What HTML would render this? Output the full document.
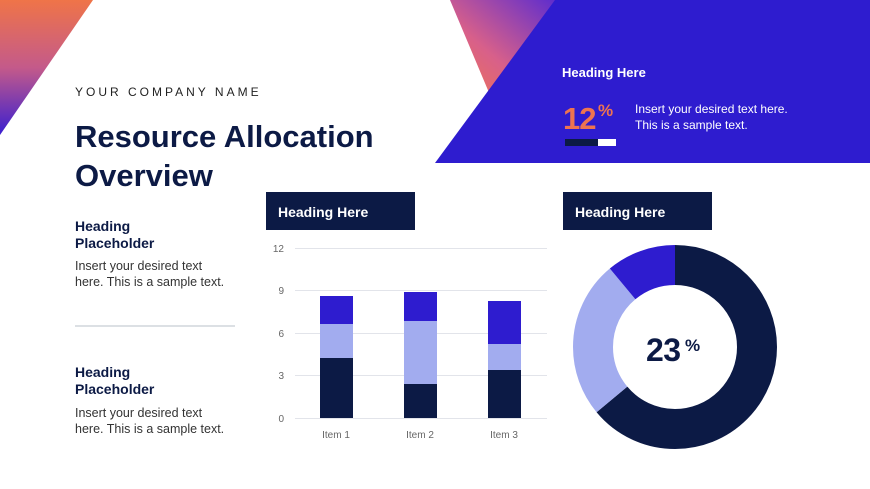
<!DOCTYPE html>
<html><head><meta charset="utf-8"><style>
html,body{margin:0;padding:0;background:#fff;}
body{width:870px;height:489px;overflow:hidden;position:relative;font-family:"Liberation Sans",sans-serif;}
</style></head><body>
<svg width="870" height="489" viewBox="0 0 870 489" xmlns="http://www.w3.org/2000/svg" style="position:absolute;left:0;top:0">
<defs>
<linearGradient id="g1" x1="0" y1="0" x2="0" y2="1">
<stop offset="0" stop-color="#ef7448"/><stop offset="0.5" stop-color="#c45a8a"/><stop offset="1" stop-color="#3a1fd0"/></linearGradient>
<linearGradient id="g2" x1="1" y1="0" x2="0" y2="1">
<stop offset="0" stop-color="#5a2bd0"/><stop offset="0.6" stop-color="#d8608a"/><stop offset="1" stop-color="#f07450"/></linearGradient>
</defs>
<polygon points="0,0 93,0 0,135" fill="url(#g1)"/>
<polygon points="450,0 560,0 490,95" fill="url(#g2)"/>
<polygon points="555,0 870,0 870,163 435,163" fill="#2e1ccf"/>
<text x="562" y="77" font-size="13" font-weight="bold" fill="#fff">Heading Here</text>
<text x="563" y="129" font-size="31" font-weight="bold" fill="#ee7450" letter-spacing="-1">12</text>
<text x="598" y="116" font-size="17" font-weight="bold" fill="#ee7450">%</text>
<rect x="565" y="139" width="33" height="7" fill="#0c1a45"/><rect x="598" y="139" width="18" height="7" fill="#fff"/>
<text x="635" y="113" font-size="12" fill="#fff">Insert your desired text here.</text>
<text x="635" y="129" font-size="12" fill="#fff">This is a sample text.</text>
<text x="75" y="96" font-size="12" letter-spacing="3" fill="#222">YOUR COMPANY NAME</text>
<text x="75" y="147" font-size="31" font-weight="bold" fill="#0c1a45">Resource Allocation</text>
<text x="75" y="186" font-size="31" font-weight="bold" fill="#0c1a45">Overview</text>
<g font-size="14" font-weight="bold" fill="#0c1a45">
<text x="75" y="231">Heading</text><text x="75" y="248">Placeholder</text>
<text x="75" y="377">Heading</text><text x="75" y="394">Placeholder</text></g>
<g font-size="12.5" fill="#333">
<text x="75" y="270">Insert your desired text</text><text x="75" y="286">here. This is a sample text.</text>
<text x="75" y="417">Insert your desired text</text><text x="75" y="433">here. This is a sample text.</text></g>
<line x1="75" y1="326" x2="235" y2="326" stroke="#b8c0c8" stroke-width="1"/>
<rect x="266" y="192" width="149" height="38" fill="#0c1a45"/>
<text x="278" y="217" font-size="14" font-weight="bold" fill="#fff">Heading Here</text>
<rect x="563" y="192" width="149" height="38" fill="#0c1a45"/>
<text x="575" y="217" font-size="14" font-weight="bold" fill="#fff">Heading Here</text>
<g stroke="#e2e4ea" stroke-width="1">
<line x1="295" y1="248.5" x2="547" y2="248.5"/><line x1="295" y1="290.5" x2="547" y2="290.5"/>
<line x1="295" y1="333.5" x2="547" y2="333.5"/><line x1="295" y1="375.5" x2="547" y2="375.5"/>
<line x1="295" y1="418.5" x2="547" y2="418.5"/></g>
<g font-size="10" fill="#666" text-anchor="end">
<text x="284" y="252">12</text><text x="284" y="294">9</text><text x="284" y="337">6</text><text x="284" y="379">3</text><text x="284" y="422">0</text></g>
<g font-size="10" fill="#666" text-anchor="middle">
<text x="336" y="438">Item 1</text><text x="420" y="438">Item 2</text><text x="504" y="438">Item 3</text></g>
<rect x="320" y="358" width="33" height="60" fill="#0c1a45"/><rect x="320" y="324" width="33" height="34" fill="#a2acef"/><rect x="320" y="296" width="33" height="28" fill="#2e1ccf"/>
<rect x="404" y="384" width="33" height="34" fill="#0c1a45"/><rect x="404" y="321" width="33" height="63" fill="#a2acef"/><rect x="404" y="292" width="33" height="29" fill="#2e1ccf"/>
<rect x="488" y="370" width="33" height="48" fill="#0c1a45"/><rect x="488" y="344" width="33" height="26" fill="#a2acef"/><rect x="488" y="301" width="33" height="43" fill="#2e1ccf"/>
<g transform="rotate(-90 675 347)" fill="none" stroke-width="40">
<circle cx="675" cy="347" r="82" stroke="#0c1a45" stroke-dasharray="329.4 1000"/>
<circle cx="675" cy="347" r="82" stroke="#a2acef" stroke-dasharray="0 329.4 128.8 1000"/>
<circle cx="675" cy="347" r="82" stroke="#2e1ccf" stroke-dasharray="0 458.2 57.3 1000"/>
</g>
<text x="646" y="361" font-size="32" font-weight="bold" fill="#0c1a45" letter-spacing="-0.5">23</text>
<text x="685" y="351" font-size="17" font-weight="bold" fill="#0c1a45">%</text>
</svg>
</body></html>
